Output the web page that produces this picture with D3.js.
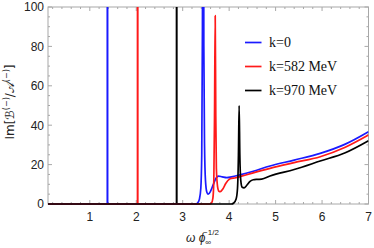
<!DOCTYPE html>
<html>
<head>
<meta charset="utf-8">
<script src="https://cdn.jsdelivr.net/npm/d3@7"></script>
<style>
  body { margin: 0; background: #fff; }
  svg { display: block; }
  .tick-label { font-family: "Liberation Sans", Arial, sans-serif; font-size: 12px; fill: #222; }
  .legend text { font-family: "Liberation Serif", "Times New Roman", serif; font-size: 14px; fill: #111; }
</style>
</head>
<body>
<svg width="374" height="248"></svg>
<script>
// values: [omega, Im(B/A)]
var blue = [
  [0.1, 0], [3.28, 0], [3.32, 0.5], [3.36, 2.5], [3.39, 8], [3.41, 25], [3.425, 90],
  [3.435, 220], [3.445, 220], [3.455, 80], [3.47, 30], [3.49, 12], [3.52, 6], [3.55, 5],
  [3.6, 6.5], [3.66, 10], [3.72, 13.2], [3.77, 14.2], [3.85, 13.8], [3.95, 13.4],
  [4.05, 13.8], [4.23, 14.8], [4.5, 16.5], [4.88, 19.3], [5.4, 22.3], [5.96, 25.7],
  [6.5, 30.4], [7, 36.7]
];
var red = [
  [0.1, 0], [3.58, 0], [3.62, 0.5], [3.65, 3], [3.67, 12], [3.685, 45], [3.7, 95.6],
  [3.712, 45], [3.725, 18], [3.75, 9], [3.78, 6.5], [3.81, 6.3], [3.86, 7.5], [3.93, 10.5],
  [4.0, 12.5], [4.05, 13.0], [4.12, 13.2], [4.23, 13.9], [4.5, 15.7], [4.88, 18.1],
  [5.4, 21.0], [5.96, 24.0], [6.5, 28.8], [7, 35.0]
];
var black = [
  [0.1, 0], [4.05, 0], [4.1, 0.5], [4.15, 2.5], [4.18, 8], [4.2, 25], [4.215, 50],
  [4.23, 25], [4.25, 12], [4.28, 8.5], [4.32, 8.2], [4.38, 9.5], [4.45, 11.5], [4.52, 12.3],
  [4.6, 12.5], [4.7, 12.6], [4.88, 14.2], [5.4, 17.5], [5.96, 21.8], [6.5, 26.0], [7, 32.1]
];
// delta-like poles (drawn as vertical lines)
var poles = [1.38, 2.03, 2.87];

var colors = ["#1a1aff", "#ff1a1a", "#000000"];
var labels = ["k=0", "k=582 MeV", "k=970 MeV"];
var xTicks = [1, 2, 3, 4, 5, 6, 7];
var yTicks = [0, 20, 40, 60, 80, 100];

var svg = d3.select("svg");

var x = d3.scaleLinear().domain([0.1, 7]).range([48, 368.5]);
var y = d3.scaleLinear().domain([0, 100]).range([204, 7]);

svg.append("clipPath").attr("id", "clip")
  .append("rect")
  .attr("x", x(0.1)).attr("y", y(100))
  .attr("width", x(7) - x(0.1)).attr("height", y(0) - y(100) + 2);

// frame with ticks on all four sides
var frame = svg.append("g").attr("stroke", "#a8a8a8").attr("fill", "none");
frame.append("rect")
  .attr("x", x(0.1)).attr("y", y(100))
  .attr("width", x(7) - x(0.1)).attr("height", y(0) - y(100))
  .attr("stroke-width", 1);

var xMinor = d3.range(0.2, 7.001, 0.2);
var yMinor = d3.range(0, 100.01, 5);

xMinor.forEach(function(v) {
  var major = Math.abs(v - Math.round(v)) < 1e-6;
  var len = major ? 4 : 2;
  frame.append("line").attr("x1", x(v)).attr("x2", x(v)).attr("y1", y(0)).attr("y2", y(0) - len);
  frame.append("line").attr("x1", x(v)).attr("x2", x(v)).attr("y1", y(100)).attr("y2", y(100) + len);
});
yMinor.forEach(function(v) {
  var major = v % 20 === 0;
  var len = major ? 4 : 2;
  frame.append("line").attr("y1", y(v)).attr("y2", y(v)).attr("x1", x(0.1)).attr("x2", x(0.1) + len);
  frame.append("line").attr("y1", y(v)).attr("y2", y(v)).attr("x1", x(7)).attr("x2", x(7) - len);
});

svg.append("g").selectAll("text").data(xTicks).enter().append("text")
  .attr("class", "tick-label")
  .attr("x", function(d) { return x(d); })
  .attr("y", 221)
  .attr("text-anchor", "middle")
  .text(function(d) { return d; });

svg.append("g").selectAll("text").data(yTicks).enter().append("text")
  .attr("class", "tick-label")
  .attr("x", 44)
  .attr("y", function(d) { return y(d) + 4.3; })
  .attr("text-anchor", "end")
  .text(function(d) { return d; });

// curves
var plot = svg.append("g").attr("clip-path", "url(#clip)");
var line = d3.line()
  .x(function(d) { return x(d[0]); })
  .y(function(d) { return y(d[1]); })
  .curve(d3.curveMonotoneX);

[blue, red, black].forEach(function(series, i) {
  plot.append("line")
    .attr("x1", x(poles[i])).attr("x2", x(poles[i]))
    .attr("y1", y(0)).attr("y2", y(110))
    .attr("stroke", colors[i]).attr("stroke-width", 2);
});
[blue, red, black].forEach(function(series, i) {
  plot.append("path")
    .datum(series)
    .attr("d", line)
    .attr("fill", "none")
    .attr("stroke", colors[i])
    .attr("stroke-width", 1.7)
    .attr("stroke-linejoin", "round");
});

// legend
var legend = svg.append("g").attr("class", "legend");
labels.forEach(function(lab, i) {
  var ly = 42.5 + i * 24;
  legend.append("line")
    .attr("x1", 245).attr("x2", 261.5).attr("y1", ly).attr("y2", ly)
    .attr("stroke", colors[i]).attr("stroke-width", 1.7);
  legend.append("text").attr("x", 269).attr("y", ly + 4.5).text(lab);
});

// axis titles
svg.append("text")
  .attr("transform", "translate(14,102) rotate(-90)")
  .attr("text-anchor", "middle")
  .attr("font-family", "'DejaVu Sans', 'Liberation Sans', sans-serif")
  .attr("font-size", 12)
  .attr("fill", "#222")
  .html("Im[ℬ<tspan dy='-5' font-size='8'>(−)</tspan><tspan dy='5'>/𝒜</tspan><tspan dy='-5' font-size='8'>(−)</tspan><tspan dy='5'>]</tspan>");

var xt = svg.append("text")
  .attr("x", 186)
  .attr("y", 242)
  .attr("font-family", "'Liberation Sans', Arial, sans-serif")
  .attr("font-size", 12)
  .attr("fill", "#222");
xt.append("tspan").attr("font-style", "italic").text("ω ϕ");
xt.append("tspan").attr("font-size", 8).attr("dx", 0).attr("dy", 3).text("∞");
xt.append("tspan").attr("font-size", 8).attr("dx", -8).attr("dy", -10).text("−1/2");
</script>
</body>
</html>
